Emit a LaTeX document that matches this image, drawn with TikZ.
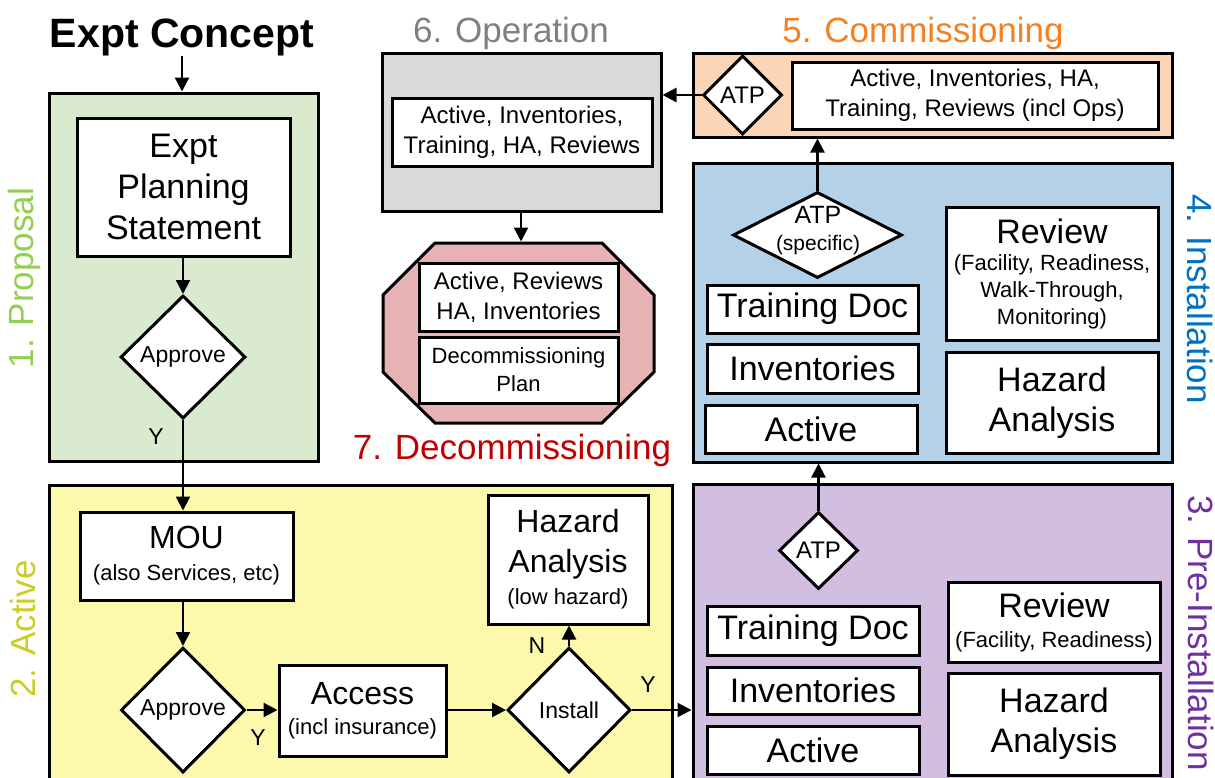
\documentclass[tikz,border=0pt]{standalone}
\usepackage{fontspec}
\setmainfont{Liberation Sans}
\usetikzlibrary{arrows.meta,shapes.geometric}
\newcommand\myfs[2]{\fontsize{#1}{#2}\selectfont}
\definecolor{cgreen}{RGB}{217,234,207}
\definecolor{cyellow}{RGB}{252,249,172}
\definecolor{cgray}{RGB}{217,217,217}
\definecolor{corange}{RGB}{251,213,181}
\definecolor{cblue}{RGB}{180,209,231}
\definecolor{cpurple}{RGB}{210,190,224}
\definecolor{cpink}{RGB}{230,178,180}
\definecolor{tgreen}{RGB}{146,208,80}
\definecolor{tyellow}{RGB}{204,204,40}
\definecolor{tgray}{RGB}{128,128,128}
\definecolor{torange}{RGB}{247,128,30}
\definecolor{tred}{RGB}{192,0,0}
\definecolor{tblue}{RGB}{0,112,192}
\definecolor{tpurple}{RGB}{112,48,160}
\begin{document}
\begin{tikzpicture}[x=1pt,y=-1pt,
  container/.style={draw, line width=3pt, inner sep=0pt},
  box/.style={draw, fill=white, line width=3pt, inner sep=0pt, align=center},
  dia/.style={diamond, draw, fill=white, line width=3pt, inner sep=0pt, align=center},
  arr/.style={line width=2.3pt, -{Triangle[length=14pt,width=14pt]}},
  lab/.style={inner sep=0pt},
  stage/.style={inner sep=0pt, font=\myfs{35}{42}},
  yn/.style={inner sep=0pt, font=\myfs{23}{28}}
]
\useasboundingbox (0,0) rectangle (1215,777);
\fill[white] (0,0) rectangle (1215,777);
\clip (0,0) rectangle (1215,777);

% ---------- containers ----------
\node[container, fill=cgreen, minimum width=269pt, minimum height=368pt] (prop) at (183.5,277) {};
\node[container, fill=cyellow, minimum width=623pt, minimum height=320pt] (act) at (360.5,645) {};
\node[container, fill=cgray, minimum width=279pt, minimum height=158pt] (ops) at (521.5,132) {};
\node[container, fill=corange, minimum width=479pt, minimum height=84pt] (comm) at (932.5,95) {};
\node[container, fill=cblue, minimum width=479pt, minimum height=299pt] (inst) at (932.5,312.5) {};
\node[container, fill=cpurple, minimum width=479pt, minimum height=320pt] (pre) at (932.5,644) {};
\draw[line width=3pt, fill=cpink] (435,243) -- (602,243) -- (654,295) -- (654,372) -- (602,423) -- (435,423) -- (383,372) -- (383,295) -- cycle;
\coordinate (octtop) at (521,241.5);

% ---------- stage labels ----------
\node[lab, font=\bfseries\myfs{41}{48}, anchor=base] (concept) at (182,47) {Expt Concept};
\node[stage, text=tgray, anchor=base] (lops) at (511,42) {6. Operation};
\node[stage, text=torange, anchor=base] (lcomm) at (923,42) {5. Commissioning};
\node[stage, text=tred, anchor=base] (ldec) at (512,459) {7. Decommissioning};
\node[stage, text=tgreen, rotate=90, anchor=base] (lprop) at (33,278) {1. Proposal};
\node[stage, text=tyellow, rotate=90, anchor=base] (lact) at (35,629) {2. Active};
\node[stage, text=tblue, rotate=-90, anchor=base] (linst) at (1187,299) {4. Installation};
\node[stage, text=tpurple, rotate=-90, anchor=base] (lpre) at (1188,633) {3. Pre-Installation};

% ---------- proposal ----------
\node[box, font=\myfs{34}{41}, minimum width=213pt, minimum height=138pt] (eps) at (183.5,187) {Expt\\Planning\\Statement};
\node[dia, font=\myfs{23}{28}, minimum width=125pt, minimum height=123pt] (appr1) at (183,357) {Approve};

% ---------- active ----------
\node[box, font=\myfs{32}{32}, minimum width=213pt, minimum height=88pt] (mou) at (186.5,556) {MOU\\{\myfs{22}{25}(also Services, etc)}};
\node[dia, font=\myfs{23}{28}, minimum width=124pt, minimum height=125pt] (appr2) at (183,710) {Approve};
\node[box, font=\myfs{32}{30}, minimum width=167pt, minimum height=91pt] (access) at (362.5,710.5) {Access\\{\myfs{22}{25}(incl insurance)}};
\node[dia, font=\myfs{23}{28}, minimum width=123pt, minimum height=125pt] (install) at (569,710) {Install};
\node[box, font=\myfs{32}{40}, minimum width=160pt, minimum height=129pt] (halow) at (568,559.5) {Hazard\\Analysis\\[-8pt]{\myfs{22}{25}(low hazard)}};

% ---------- operation / decommissioning ----------
\node[box, font=\myfs{24}{30}, minimum width=260pt, minimum height=68pt] (opsin) at (522,132) {Active, Inventories,\\Training, HA, Reviews};
\node[box, font=\myfs{24}{30}, minimum width=199pt, minimum height=68pt] (dec1) at (518.5,297) {Active, Reviews\\HA, Inventories};
\node[box, font=\myfs{22}{28}, minimum width=199pt, minimum height=66pt] (dec2) at (518.5,370) {Decommissioning\\Plan};

% ---------- commissioning ----------
\node[dia, font=\myfs{24}{28}, minimum width=79pt, minimum height=79pt] (atpC) at (742.5,95) {ATP};
\node[box, font=\myfs{24}{30}, minimum width=366pt, minimum height=67pt] (commin) at (975,95.5) {Active, Inventories, HA,\\Training, Reviews (incl Ops)};

% ---------- installation ----------
\node[dia, minimum width=169pt, minimum height=86pt] (atpI) at (817.5,235) {};
\node[lab, font=\myfs{25}{30}, anchor=base] (atpIa) at (818,223) {ATP};
\node[lab, font=\myfs{21}{25}, anchor=base] (atpIb) at (818,250) {(specific)};
\node[box, font=\myfs{34}{41}, minimum width=211pt, minimum height=48pt] (tdI) at (812.5,309) {Training Doc};
\node[box, font=\myfs{34}{41}, minimum width=211pt, minimum height=49pt] (invI) at (812.5,368.5) {Inventories};
\node[box, font=\myfs{34}{41}, minimum width=212pt, minimum height=48pt] (actI) at (811,429) {Active};
\node[box, font=\myfs{22}{27}, minimum width=212pt, minimum height=133pt] (revI) at (1052,273.5) {{\myfs{34}{34}Review}\\(Facility, Readiness,\\Walk-Through,\\Monitoring)};
\node[box, font=\myfs{34}{40}, minimum width=212pt, minimum height=101pt] (haI) at (1052,402.5) {Hazard\\Analysis};

% ---------- pre-installation ----------
\node[dia, font=\myfs{24}{28}, minimum width=79pt, minimum height=77pt] (atpP) at (818.5,550.5) {ATP};
\node[box, font=\myfs{34}{41}, minimum width=212pt, minimum height=49pt] (tdP) at (813,630.5) {Training Doc};
\node[box, font=\myfs{34}{41}, minimum width=212pt, minimum height=47pt] (invP) at (813,690.5) {Inventories};
\node[box, font=\myfs{34}{41}, minimum width=212pt, minimum height=48pt] (actP) at (813,750) {Active};
\node[box, font=\myfs{22}{30}, minimum width=212pt, minimum height=80pt] (revP) at (1054,622) {{\myfs{34}{34}Review}\\(Facility, Readiness)};
\node[box, font=\myfs{34}{40}, minimum width=212pt, minimum height=102pt] (haP) at (1054,724) {Hazard\\Analysis};

% ---------- connectors ----------
\draw[arr] (concept.south) -- (concept.south |- prop.north);
\draw[arr] (eps.south -| appr1.north) -- (appr1.north);
\draw[arr] (appr1.south) -- (appr1.south |- mou.north);
\draw[arr] (appr1.south |- mou.south) -- (appr2.north);
\draw[arr] (appr2.east) -- (appr2.east -| access.west);
\draw[arr] (access.east |- install.west) -- (install.west);
\draw[arr] (install.north) -- (install.north |- halow.south);
\draw[arr] (install.east) -- (install.east -| pre.west);
\draw[arr] (atpP.north) -- (atpP.north |- inst.south);
\draw[arr] (atpI.north) -- (atpI.north |- comm.south);
\draw[arr] (atpC.west) -- (atpC.west -| ops.east);
\draw[arr] (ops.south -| octtop) -- (octtop);

% ---------- Y / N labels ----------
\node[yn] (y1) at (156,437) {Y};
\node[yn] (y2) at (258,738) {Y};
\node[yn] (n1) at (537,646) {N};
\node[yn] (y3) at (648,685) {Y};
\end{tikzpicture}
\end{document}
